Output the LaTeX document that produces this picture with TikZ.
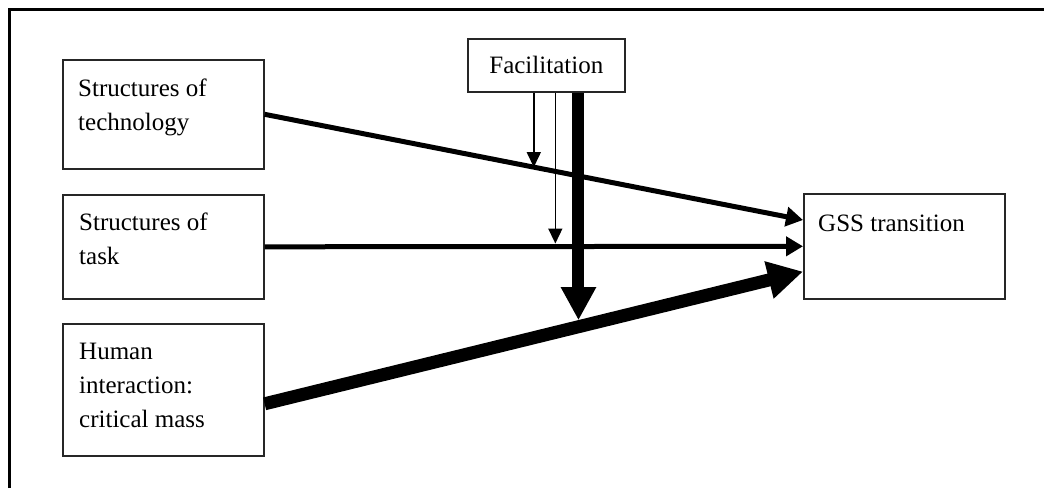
\documentclass[tikz,border=0pt]{standalone}
\usepackage{fontspec}
\setmainfont{Liberation Serif}
\usetikzlibrary{arrows.meta,calc}
\begin{document}
\begin{tikzpicture}[x=1pt,y=-1pt,
  box/.style={draw=black!85,line width=1.6pt,rectangle,inner sep=0pt,anchor=north west},
  lbl/.style={font=\fontsize{25}{34}\selectfont,align=left,inner sep=0pt,anchor=north west},
  medarrow/.style={line width=5pt,-{Triangle[length=17pt,width=19pt]}},
  thinarrow/.style={line width=1.5pt,-{Triangle[length=15pt,width=14pt]}},
  bigarrow/.style={line width=13pt,-{Triangle[length=35pt,width=36pt]}}]
\useasboundingbox (0,0) rectangle (1044,488);
% frame (top and left only)
\draw[line width=3pt] (9.5,488) -- (9.5,9.5) -- (1044,9.5);
% boxes
\node[box,minimum width=201pt,minimum height=109pt] (tech) at (62,59) {};
\node[box,minimum width=201pt,minimum height=104pt] (task) at (62,194) {};
\node[box,minimum width=201pt,minimum height=132pt] (human) at (62,323) {};
\node[box,minimum width=201pt,minimum height=105pt] (gss) at (803,193) {};
\node[box,minimum width=157pt,minimum height=53pt,font=\fontsize{25}{34}\selectfont] (fac) at (467,38) {Facilitation};
% labels
\node[lbl] (techlbl) at (78,79) {Structures of\\technology};
\node[lbl] (tasklbl) at (79,213) {Structures of\\task};
\node[lbl] (humanlbl) at (79,343) {Human\\interaction:\\critical mass};
\node[lbl] (gsslbl) at (818,215) {GSS transition};
% main arrows
\draw[medarrow] (tech.east) -- coordinate[pos=0.5] (t1) ($(gss.north west)+(0,27)$);
\draw[medarrow] (task.east) -- coordinate[pos=0.54] (t2) (gss.west);
\draw[bigarrow] ($(human.east)+(0,14)$) -- coordinate[pos=0.583] (t3) ($(gss.south west)+(0,-28)$);
% facilitation arrows
\draw[thinarrow] (fac.south -| t1) -- (t1);
\draw[thinarrow] (fac.south -| t2) -- ($(t2)+(0,-3)$);
\draw[bigarrow,line width=12pt,-{Triangle[length=33pt,width=33pt]}] (fac.south -| t3) -- ($(t3)+(0,-6.5)$);
\end{tikzpicture}
\end{document}
